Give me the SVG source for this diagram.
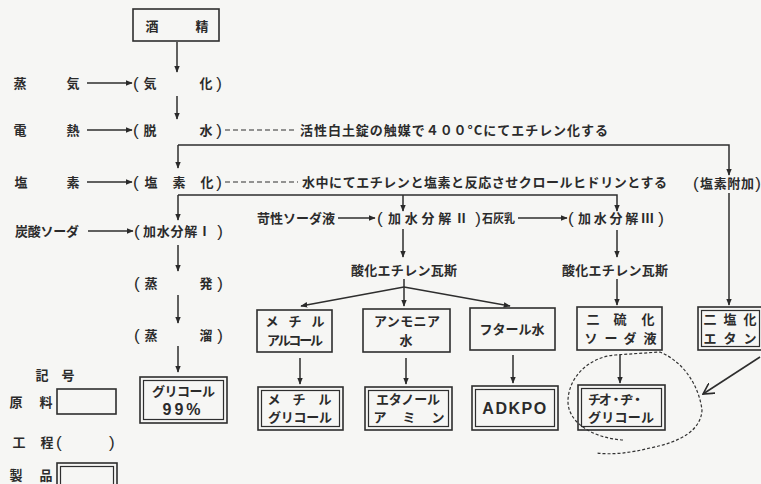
<svg xmlns="http://www.w3.org/2000/svg" width="761" height="484" viewBox="0 0 761 484">
<defs>
<marker id="ah" viewBox="0 0 10 10" refX="9" refY="5" markerWidth="7" markerHeight="7" orient="auto" markerUnits="userSpaceOnUse">
<path d="M0,1 L10,5 L0,9 z" fill="#2a2a2a"/>
</marker>
<marker id="vh" viewBox="0 0 12 12" refX="11" refY="6" markerWidth="12" markerHeight="12" orient="auto" markerUnits="userSpaceOnUse">
<path d="M0,0 L11,6 L0,12" fill="none" stroke="#2a2a2a" stroke-width="1.6"/>
</marker>
</defs>
<style>
text{font-family:"Noto Sans CJK JP","Noto Sans CJK SC",sans-serif;font-size:13px;font-weight:bold;fill:#2b2b2b}
.c{text-anchor:middle}
.e{text-anchor:end}
.p{font-family:"Liberation Sans",sans-serif;font-size:17px;font-weight:normal}
.ln{stroke:#2e2e2e;stroke-width:1.5;fill:none}
.ar{marker-end:url(#ah)}
.dsh{stroke-dasharray:5 3;stroke-width:1.2}
.box{fill:none;stroke:#2e2e2e;stroke-width:1.6}
.in{fill:none;stroke:#2e2e2e;stroke-width:1.2}
.big{font-family:"Liberation Sans",sans-serif;font-size:16px;font-weight:bold}
</style>
<rect width="761" height="484" fill="#f6f6f4"/>

<g id="connectors">
<path class="ln ar" d="M177,42 V72"/>
<path class="ln ar" d="M177,96 V119"/>
<path class="ln ar" d="M178,145 V168"/>
<path class="ln ar" d="M178,195 V220"/>
<path class="ln ar" d="M178,245 V271"/>
<path class="ln ar" d="M178,295 V323"/>
<path class="ln ar" d="M178,346 V372"/>
<path class="ln ar" d="M87,83 H132"/>
<path class="ln ar" d="M87,130 H132"/>
<path class="ln ar" d="M87,182 H132"/>
<path class="ln ar" d="M88,231 H133"/>
<path class="ln dsh" d="M225,130 H297"/>
<path class="ln dsh" d="M225,182 H298"/>
<path class="ln ar" d="M178,145 H729 V175"/>
<path class="ln ar" d="M729,193 V305"/>
<path class="ln ar" d="M178,195 H617 V211"/>
<path class="ln ar" d="M403,195 V211"/>
<path class="ln ar" d="M338,218 H375"/>
<path class="ln ar" d="M518,218 H567"/>
<path class="ln ar" d="M403,229 V257"/>
<path class="ln ar" d="M617,230 V257"/>
<path class="ln ar" d="M617,279 V305"/>
<path class="ln ar" d="M404,279 V306"/>
<path class="ln ar" d="M404,287 L301,306"/>
<path class="ln ar" d="M404,287 L510,306"/>
<path class="ln ar" d="M300,358 V384"/>
<path class="ln ar" d="M406,358 V384"/>
<path class="ln ar" d="M513,355 V383"/>
<path class="ln ar" d="M620,355 V383"/>
<path d="M623,440 C592,438 567,422 568,400 C569,376 590,357 615,355 L660,352 C684,362 699,386 702,410 C701,430 681,442 650,448 C630,453 612,455 597,453" fill="none" stroke="#333" stroke-width="1.2" stroke-dasharray="3 2"/>
<path d="M760,357 L703,394" fill="none" stroke="#2e2e2e" stroke-width="1.6" marker-end="url(#vh)"/>
</g>

<g id="n-sake">
<rect class="box" x="133" y="9" width="86" height="32"/>
<text class="c" x="152" y="31">酒</text>
<text class="c" x="202" y="31">精</text>
</g>

<g id="r-steam"><text class="c" x="20" y="88">蒸</text><text class="c" x="73" y="88">気</text></g>
<g id="p-kika"><text class="p" x="133" y="89">(</text><text class="c" x="150" y="88">気</text><text class="c" x="206" y="88">化</text><text class="p e" x="222" y="89">)</text></g>

<g id="r-heat"><text class="c" x="20" y="135">電</text><text class="c" x="73" y="135">熱</text></g>
<g id="p-dassui"><text class="p" x="133" y="136">(</text><text class="c" x="150" y="135">脱</text><text class="c" x="206" y="135">水</text><text class="p e" x="222" y="136">)</text></g>
<text id="t-note1" x="300" y="134.5" textLength="308" lengthAdjust="spacing">活性白土錠の触媒で４００°Cにてエチレン化する</text>

<g id="r-cl"><text class="c" x="21" y="187">塩</text><text class="c" x="73" y="187">素</text></g>
<g id="p-enso"><text class="p" x="133" y="188">(</text><text class="c" x="151" y="187">塩</text><text class="c" x="179" y="187">素</text><text class="c" x="207" y="187">化</text><text class="p e" x="222" y="188">)</text></g>
<text id="t-note2" x="302" y="186.5" textLength="365" lengthAdjust="spacing">水中にてエチレンと塩素と反応させクロールヒドリンとする</text>
<g id="p-fuka"><text class="p" x="693" y="188.5">(</text><text x="700" y="187.5" textLength="54" lengthAdjust="spacing">塩素附加</text><text class="p e" x="761" y="188.5">)</text></g>

<g id="r-soda"><text x="15" y="235.5" textLength="64" lengthAdjust="spacing">炭酸ソーダ</text></g>
<g id="p-kasui1"><text class="p" x="134" y="237">(</text><text x="143" y="235.5" textLength="68" lengthAdjust="spacing">加水分解Ⅰ</text><text class="p e" x="223" y="237">)</text></g>

<g id="r-caustic"><text x="257" y="222.5" textLength="78" lengthAdjust="spacing">苛性ソーダ液</text></g>
<g id="p-kasui2"><text class="p" x="377" y="224">(</text><text x="388" y="222.5" textLength="80" lengthAdjust="spacing">加水分解Ⅱ</text><text class="p e" x="481" y="224">)</text></g>
<g id="r-lime"><text x="482" y="222.5" style="font-size:12px" textLength="33" lengthAdjust="spacingAndGlyphs">石灰乳</text></g>
<g id="p-kasui3"><text class="p" x="568" y="224">(</text><text x="578" y="222.5" textLength="76" lengthAdjust="spacing">加水分解Ⅲ</text><text class="p e" x="664" y="224">)</text></g>

<text id="t-eo1" class="c" x="404" y="274.5" textLength="106" lengthAdjust="spacing">酸化エチレン瓦斯</text>
<text id="t-eo2" class="c" x="615" y="274.5" textLength="106" lengthAdjust="spacing">酸化エチレン瓦斯</text>

<g id="p-jouhatsu"><text class="p" x="134" y="289">(</text><text class="c" x="151" y="288">蒸</text><text class="c" x="206" y="288">発</text><text class="p e" x="223" y="289">)</text></g>
<g id="p-jouryu"><text class="p" x="134" y="341">(</text><text class="c" x="151" y="340">蒸</text><text class="c" x="206" y="340">溜</text><text class="p e" x="223" y="341">)</text></g>

<g id="n-methylalc">
<rect class="box" x="257" y="310" width="75" height="42"/>
<text class="c" x="272" y="326">メ</text><text class="c" x="295" y="326">チ</text><text class="c" x="318" y="326">ル</text>
<text x="267" y="345" textLength="56" lengthAdjust="spacing">アルコール</text>
</g>
<g id="n-ammonia">
<rect class="box" x="363" y="309" width="87" height="43"/>
<text x="374" y="326" textLength="66" lengthAdjust="spacing">アンモニア</text>
<text class="c" x="406" y="345">水</text>
</g>
<g id="n-phthal">
<rect class="box" x="470" y="308" width="85" height="42"/>
<text class="c" x="512" y="334">フタール水</text>
</g>
<g id="n-na2s2">
<rect class="box" x="577" y="307" width="85" height="43"/>
<text class="c" x="593" y="324">二</text><text class="c" x="620" y="324">硫</text><text class="c" x="648" y="324">化</text>
<text class="c" x="591" y="343">ソ</text><text class="c" x="611" y="343">ー</text><text class="c" x="630" y="343">ダ</text><text class="c" x="650" y="343">液</text>
</g>
<g id="n-dce">
<rect class="box" x="698" y="307" width="64" height="43"/>
<rect class="in" x="701.5" y="310.5" width="58" height="36"/>
<text class="c" x="710" y="324">二</text><text class="c" x="730" y="324">塩</text><text class="c" x="750" y="324">化</text>
<text class="c" x="710" y="343">エ</text><text class="c" x="730" y="343">タ</text><text class="c" x="750" y="343">ン</text>
</g>

<g id="n-glycol">
<rect class="box" x="140" y="377" width="87" height="46"/>
<rect class="in" x="143.5" y="380.5" width="80" height="39"/>
<text x="152" y="396" textLength="63" lengthAdjust="spacing">グリコール</text>
<text class="big c" x="183" y="415" style="letter-spacing:3px">99%</text>
</g>
<g id="n-methylglycol">
<rect class="box" x="258" y="387" width="85" height="43"/>
<rect class="in" x="261.5" y="390.5" width="78" height="36"/>
<text class="c" x="274" y="404">メ</text><text class="c" x="299" y="404">チ</text><text class="c" x="325" y="404">ル</text>
<text x="268" y="422" textLength="64" lengthAdjust="spacing">グリコール</text>
</g>
<g id="n-ethanolamine">
<rect class="box" x="365" y="387" width="87" height="43"/>
<rect class="in" x="368.5" y="390.5" width="80" height="36"/>
<text x="376" y="404" textLength="64" lengthAdjust="spacing">エタノール</text>
<text class="c" x="380" y="422">ア</text><text class="c" x="409" y="422">ミ</text><text class="c" x="438" y="422">ン</text>
</g>
<g id="n-adkpo">
<rect class="box" x="472" y="386" width="86" height="44"/>
<rect class="in" x="475.5" y="389.5" width="79" height="37"/>
<text class="big c" x="515" y="414" style="letter-spacing:1.5px">ADKPO</text>
</g>
<g id="n-thiodiglycol">
<rect class="box" x="578" y="385" width="87" height="45"/>
<rect class="in" x="581.5" y="388.5" width="80" height="38"/>
<text x="588" y="404" textLength="56" lengthAdjust="spacing">チオ・ヂ・</text>
<text x="588" y="422" textLength="66" lengthAdjust="spacing">グリコール</text>
</g>

<g id="legend">
<text class="c" x="42" y="380">記</text><text class="c" x="68" y="380">号</text>
<text class="c" x="16" y="407">原</text><text class="c" x="46" y="407">料</text>
<rect class="box" x="57" y="389" width="59" height="25"/>
<text class="c" x="19" y="447">工</text><text class="c" x="47" y="447">程</text>
<text class="p" x="56" y="448">(</text><text class="p" x="109" y="448">)</text>
<text class="c" x="16" y="480">製</text><text class="c" x="46" y="480">品</text>
<rect class="box" x="57" y="463" width="60" height="24"/>
<rect class="in" x="60.5" y="466.5" width="53" height="20"/>
</g>
</svg>
